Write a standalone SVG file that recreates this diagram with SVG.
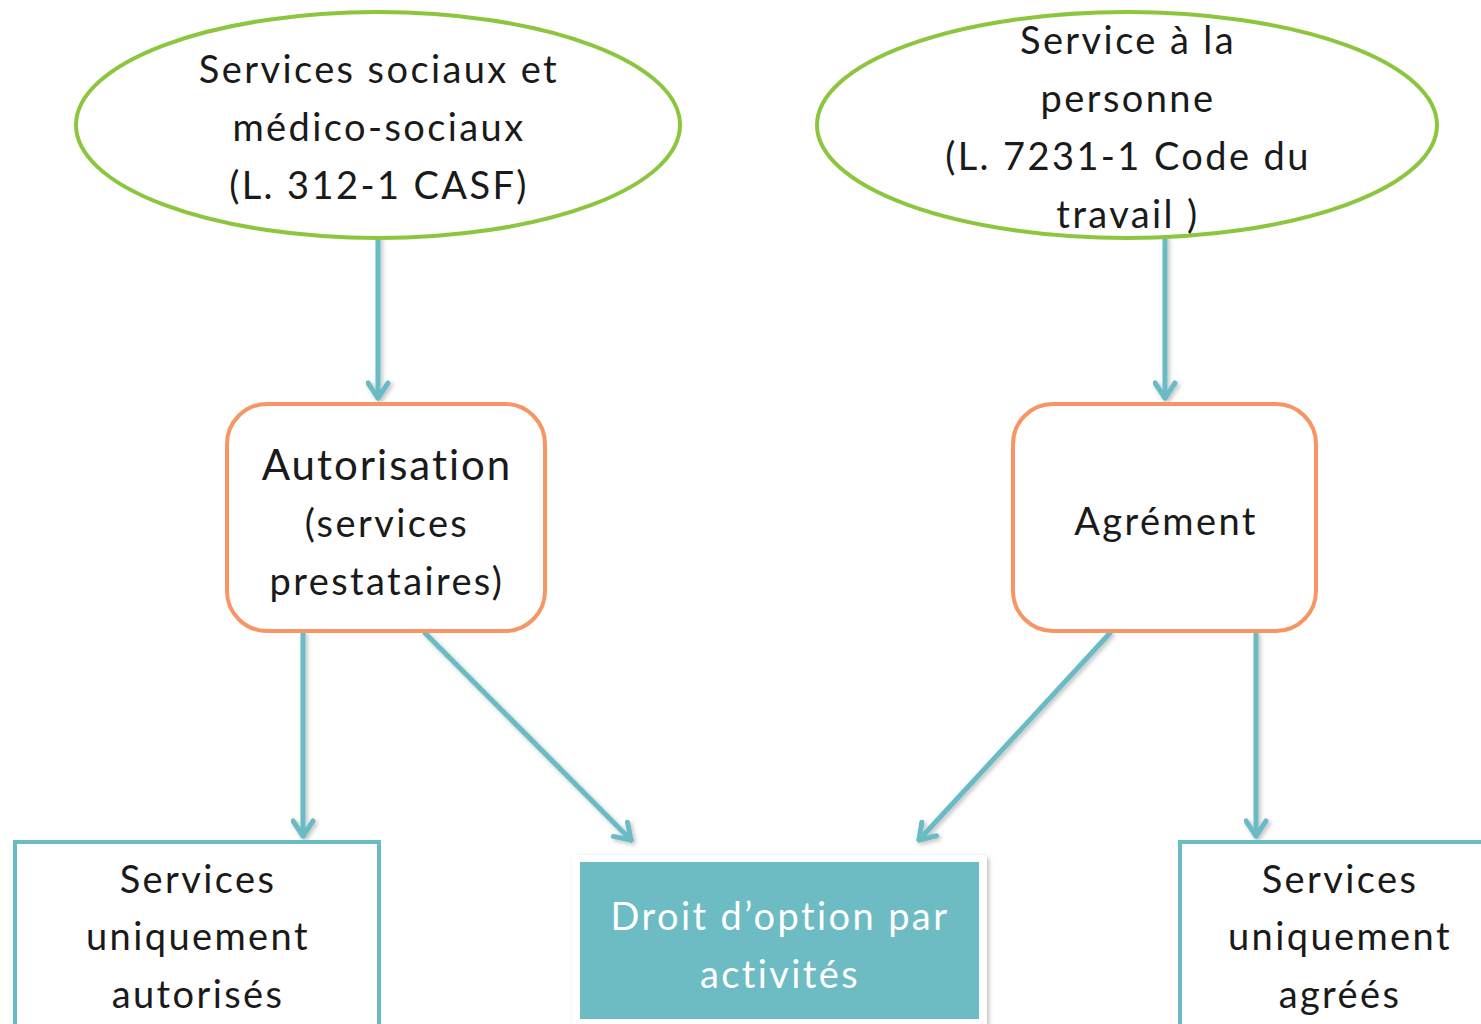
<svg xmlns="http://www.w3.org/2000/svg" width="1481" height="1024" viewBox="0 0 1481 1024">
<defs>
<style>
text{font-family:"Lato","Open Sans","DejaVu Sans",sans-serif;fill:#1a1a1a;text-anchor:middle}
.t40{font-size:38px;letter-spacing:2.4px}
.t44{font-size:42px;letter-spacing:2px}
.ell{fill:#fff;stroke:#8cc63f;stroke-width:4}
.rnd{fill:#fff;stroke:#f79664;stroke-width:4}
.box{fill:#fff;stroke:#6bbbc4;stroke-width:4}
.con{stroke:#6bbbc4;stroke-width:5;fill:none;stroke-linecap:round;marker-end:url(#ah)}
</style>
<marker id="ah" viewBox="0 0 10 10" refX="8" refY="5" markerWidth="5" markerHeight="5" orient="auto" markerUnits="strokeWidth">
<path d="M2,1 L8,5 L2,9" fill="none" stroke="#6bbbc4" stroke-width="2" stroke-linecap="round" stroke-linejoin="round"/>
</marker>
<filter id="sh" x="-20%" y="-20%" width="140%" height="140%">
<feDropShadow dx="2" dy="2" stdDeviation="2" flood-color="#000" flood-opacity="0.25"/>
</filter>
</defs>
<g id="connectors" filter="url(#sh)">
<path class="con" d="M378,238 L378,398"/>
<path class="con" d="M1165,238 L1165,398"/>
<path class="con" d="M303,633 L303,836"/>
<path class="con" d="M425,633 L631,840"/>
<path class="con" d="M1110,633 L919,840"/>
<path class="con" d="M1256,633 L1256,836"/>
</g>
<g id="n1">
<ellipse class="ell" cx="378" cy="125" rx="302" ry="113"/>
<text class="t40" x="379" y="83">Services sociaux et</text>
<text class="t40" x="379" y="141">médico-sociaux</text>
<text class="t40" x="379" y="199">(L. 312-1 CASF)</text>
</g>
<g id="n2">
<ellipse class="ell" cx="1127" cy="125" rx="310" ry="113"/>
<text class="t40" x="1128" y="54">Service à la</text>
<text class="t40" x="1128" y="112">personne</text>
<text class="t40" x="1128" y="170">(L. 7231-1 Code du</text>
<text class="t40" x="1128" y="228">travail )</text>
</g>
<g id="n3">
<rect class="rnd" x="227" y="404" width="318" height="227" rx="40"/>
<text class="t44" x="387" y="480">Autorisation</text>
<text class="t40" x="387" y="537">(services</text>
<text class="t40" x="387" y="595">prestataires)</text>
</g>
<g id="n4">
<rect class="rnd" x="1013" y="404" width="303" height="227" rx="40"/>
<text class="t40" x="1166" y="535">Agrément</text>
</g>
<g id="n5">
<rect class="box" x="15" y="842" width="364" height="190"/>
<text class="t40" x="198" y="893">Services</text>
<text class="t40" x="198" y="950">uniquement</text>
<text class="t40" x="198" y="1008">autorisés</text>
</g>
<g id="n6">
<rect x="572" y="855" width="415" height="180" rx="4" fill="#fff" filter="url(#sh)"/>
<rect x="580" y="862" width="399" height="157" fill="#6dbbc3"/>
<text class="t40" x="780" y="930" style="fill:#fff">Droit d’option par</text>
<text class="t40" x="780" y="988" style="fill:#fff">activités</text>
</g>
<g id="n7">
<rect class="box" x="1180" y="842" width="320" height="190"/>
<text class="t40" x="1340" y="893">Services</text>
<text class="t40" x="1340" y="950">uniquement</text>
<text class="t40" x="1340" y="1008">agréés</text>
</g>
</svg>
